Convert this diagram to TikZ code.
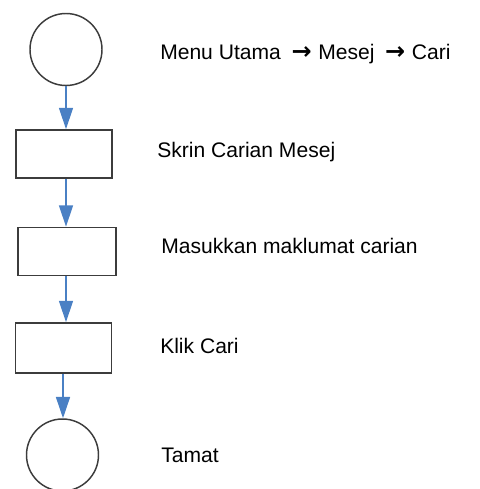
\documentclass[tikz,border=0pt]{standalone}
\usepackage{fontspec}
\setmainfont{Liberation Sans}
\newfontfamily\arrowFont{DejaVu Sans}
\usetikzlibrary{arrows.meta, calc, positioning}

\definecolor{flowBlue}{HTML}{4A80C4}
\definecolor{edgeGray}{HTML}{3C3C3C}

\tikzset{
  circleNode/.style = {draw=edgeGray, line width=1.1pt, circle, minimum size=54pt, inner sep=0pt},
  boxNode/.style = {draw=edgeGray, line width=1.3pt, rectangle, minimum width=72pt, minimum height=36pt, inner sep=0pt},
  textNode/.style = {anchor=base west, inner sep=0pt, font=\fontsize{15.8}{19}\selectfont},
  flowArrow/.style = {draw=flowBlue, line width=1.2pt, -{Triangle[length=16pt, width=10.5pt, fill=flowBlue]}}
}
\newcommand{\menuArrow}{\hspace{8pt}{\arrowFont\bfseries\fontsize{18}{19}\selectfont →}\hspace{5pt}}

\begin{document}
\begin{tikzpicture}[x=0.75pt, y=-0.75pt]
  \useasboundingbox (0,0) rectangle (479,489);

  \node[circleNode] (startCircle) at (66, 49.5) {};
  \node[boxNode] (skrinBox) at (64, 154) {};
  \node[boxNode, minimum width=73.5pt] (masukBox) at (67, 251.5) {};
  \node[boxNode, minimum height=37.5pt] (klikBox) at (63.5, 348) {};
  \node[circleNode] (endCircle) at (62.5, 455) {};

  \node[textNode] (menuText) at (160, 59) {Menu Utama\menuArrow Mesej\menuArrow Cari};
  \node[textNode] (skrinText) at ($(menuText.base west) + (-3, 98)$) {Skrin Carian Mesej};
  \node[textNode] (masukText) at ($(menuText.base west) + (1, 194)$) {Masukkan maklumat carian};
  \node[textNode] (klikText) at ($(menuText.base west) + (0, 294)$) {Klik Cari};
  \node[textNode] (tamatText) at ($(menuText.base west) + (1, 403)$) {Tamat};

  \coordinate (skrinOut) at ($(skrinBox.south) + (2, 0)$);
  \coordinate (masukOut) at ($(masukBox.south) + (-1, 0)$);
  \coordinate (klikOut) at ($(klikBox.south) + (-0.5, 0)$);

  \draw[flowArrow] (startCircle.south) -- (startCircle.south |- skrinBox.north);
  \draw[flowArrow] (skrinOut) -- (skrinOut |- masukBox.north);
  \draw[flowArrow] (masukOut) -- (masukOut |- klikBox.north);
  \draw[flowArrow] (klikOut) -- (klikOut |- endCircle.north);
\end{tikzpicture}
\end{document}
